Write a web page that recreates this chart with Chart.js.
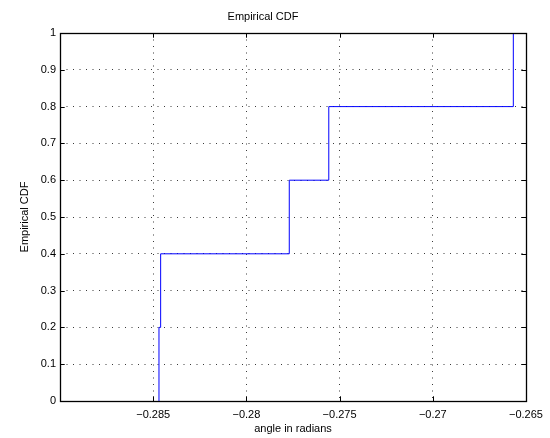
<!DOCTYPE html>
<html>
<head>
<meta charset="utf-8">
<title>Empirical CDF</title>
<script src="https://cdn.jsdelivr.net/npm/chart.js@4/dist/chart.umd.min.js"></script>
<style>
  html, body { margin: 0; padding: 0; background: #fff; }
  #wrap { width: 550px; height: 438px; }
</style>
</head>
<body>
<div id="wrap"><canvas id="cdf" width="550" height="438"></canvas></div>
<script>
// Sorted sample angles (radians) and the CDF level reached at each one
const sampleAngles = [-0.28469, -0.28460, -0.27770, -0.27558, -0.26568];
const cdfLevels = [0.2, 0.4, 0.6, 0.8, 1.0];

// Axis ticks
const xTickValues = [-0.285, -0.28, -0.275, -0.27, -0.265];
const xTickLabels = ['\u22120.285', '\u22120.28', '\u22120.275', '\u22120.27', '\u22120.265'];
const yTickValues = [0, 0.1, 0.2, 0.3, 0.4, 0.5, 0.6, 0.7, 0.8, 0.9, 1];
const yTickLabels = ['0', '0.1', '0.2', '0.3', '0.4', '0.5', '0.6', '0.7', '0.8', '0.9', '1'];

// Staircase: start at zero under the first sample, then one step per sample
const stepPoints = [{ x: sampleAngles[0], y: 0 }].concat(
  sampleAngles.map((a, i) => ({ x: a, y: cdfLevels[i] }))
);

const FONT = 'Liberation Sans, Arial, Helvetica, sans-serif';
Chart.defaults.font.family = FONT;
Chart.defaults.font.size = 11;
Chart.defaults.color = '#000';

// Box around the axes plus short inward tick marks on all four sides
const boxAndTicks = {
  id: 'boxAndTicks',
  afterDraw(chart) {
    const { ctx, chartArea: a, scales } = chart;
    const len = 4.7;
    ctx.save();
    ctx.strokeStyle = '#000';
    ctx.lineWidth = 1;
    ctx.beginPath();
    xTickValues.forEach(v => {
      const px = Math.round(scales.x.getPixelForValue(v)) + 0.5;
      ctx.moveTo(px, a.bottom); ctx.lineTo(px, a.bottom - len);
      ctx.moveTo(px, a.top); ctx.lineTo(px, a.top + len);
    });
    yTickValues.forEach(v => {
      const py = Math.round(scales.y.getPixelForValue(v)) + 0.5;
      ctx.moveTo(a.left, py); ctx.lineTo(a.left + len, py);
      ctx.moveTo(a.right, py); ctx.lineTo(a.right - len, py);
    });
    ctx.stroke();
    ctx.lineWidth = 1.3;
    ctx.strokeRect(Math.round(a.left) + 0.5, Math.round(a.top) + 0.5,
                   Math.round(a.right - a.left), Math.round(a.bottom - a.top));
    ctx.restore();
  }
};

new Chart(document.getElementById('cdf'), {
  type: 'line',
  data: {
    datasets: [{
      data: stepPoints,
      // rise first at each sample, then run flat to the next one
      stepped: 'before',
      borderColor: '#0000ff',
      borderWidth: 1,
      pointRadius: 0,
      fill: false
    }]
  },
  options: {
    responsive: false,
    animation: false,
    devicePixelRatio: 1,
    layout: { padding: { left: 0, right: 24, top: 0, bottom: 0 } },
    plugins: {
      legend: { display: false },
      tooltip: { enabled: false },
      title: {
        display: true,
        text: 'Empirical CDF',
        color: '#000',
        font: { family: FONT, size: 11, weight: 'normal' },
        padding: { top: 10, bottom: 9.8 }
      }
    },
    scales: {
      x: {
        type: 'linear',
        min: -0.29,
        max: -0.265,
        afterBuildTicks: s => { s.ticks = xTickValues.map(v => ({ value: v })); },
        afterFit: s => { s.height = 37; },
        ticks: {
          padding: 7,
          maxRotation: 0,
          autoSkip: false,
          callback: (v, i) => xTickLabels[i]
        },
        grid: { color: '#3a3a3a', lineWidth: 1, drawTicks: false },
        border: { display: false, dash: [1, 5.5] },
        title: {
          display: true,
          text: 'angle in radians',
          color: '#000',
          font: { family: FONT, size: 11 },
          padding: { top: 0, bottom: 2.4 }
        }
      },
      y: {
        type: 'linear',
        min: 0,
        max: 1,
        afterBuildTicks: s => { s.ticks = yTickValues.map(v => ({ value: v })); },
        afterFit: s => { s.width = 60; },
        ticks: {
          padding: 4,
          autoSkip: false,
          callback: (v, i) => yTickLabels[i]
        },
        grid: { color: '#3a3a3a', lineWidth: 1, drawTicks: false },
        border: { display: false, dash: [1, 5.5] },
        title: {
          display: true,
          text: 'Empirical CDF',
          color: '#000',
          font: { family: FONT, size: 11 },
          padding: { top: 18.4, bottom: 0 }
        }
      }
    }
  },
  plugins: [boxAndTicks]
});
</script>
</body>
</html>
